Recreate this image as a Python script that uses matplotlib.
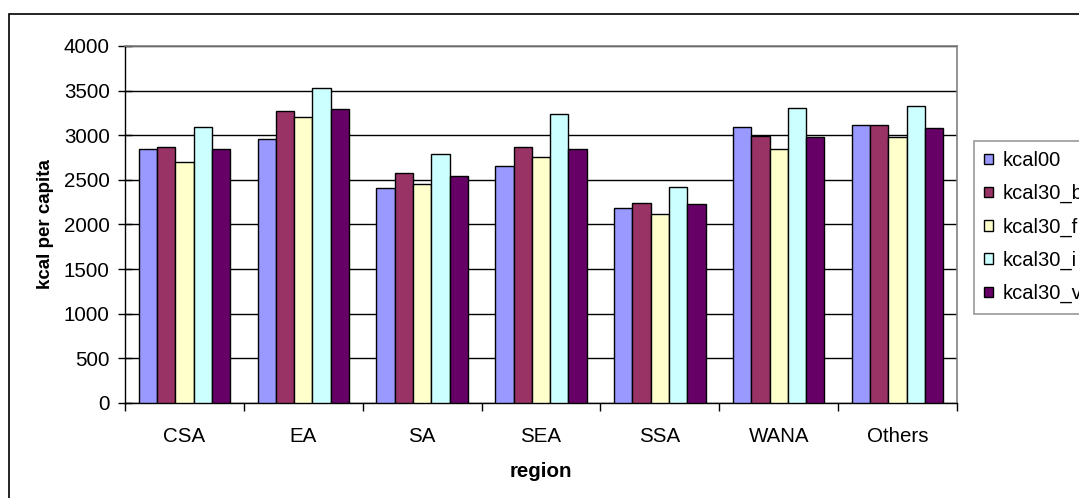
import matplotlib
matplotlib.use("Agg")
import matplotlib.pyplot as plt
from matplotlib.patches import Rectangle
import numpy as np

plt.rcParams['font.family'] = ['Liberation Sans', 'DejaVu Sans']

regions = ["CSA", "EA", "SA", "SEA", "SSA", "WANA", "Others"]
series_names = ["kcal00", "kcal30_b", "kcal30_f", "kcal30_i", "kcal30_v"]
kcal00 = [2850, 2960, 2405, 2650, 2190, 3095, 3115]
kcal30_b = [2865, 3275, 2580, 2865, 2245, 2990, 3115]
kcal30_f = [2705, 3205, 2455, 2760, 2120, 2850, 2975]
kcal30_i = [3095, 3525, 2795, 3240, 2425, 3310, 3330]
kcal30_v = [2850, 3290, 2545, 2850, 2225, 2975, 3080]
series = [kcal00, kcal30_b, kcal30_f, kcal30_i, kcal30_v]
colors = ["#9999FF", "#993366", "#FFFFCC", "#CCFFFF", "#660066"]

W, H = 1079, 498
fig = plt.figure(figsize=(W / 100, H / 100), dpi=100)

# outer chart frame (runs off the right and bottom edges)
fig.patches.append(Rectangle((9 / W, -0.2), 1.2, 1.2 - 14 / H,
                             transform=fig.transFigure, fill=False,
                             edgecolor="black", linewidth=1.2))

ax = fig.add_axes([125 / W, 1 - 403 / H, (957 - 125) / W, (403 - 46) / H])

n = len(series)
bw = 1 / 6.5
x = np.arange(len(regions))
for i, (vals, c, name) in enumerate(zip(series, colors, series_names)):
    offs = (i - (n - 1) / 2) * bw
    ax.bar(x + offs, vals, width=bw, color=c, edgecolor="black",
           linewidth=1.0, label=name, zorder=3)

ax.set_xlim(-0.5, len(regions) - 0.5)
ax.set_ylim(0, 4000)
ax.set_yticks(np.arange(0, 4001, 500))
ax.yaxis.grid(True, color="black", linewidth=1.0, zorder=0)
ax.set_axisbelow(True)

ax.set_xticks(x)
ax.set_xticklabels(regions)
ax.set_xticks(np.arange(-0.5, len(regions), 1), minor=True)
ax.tick_params(axis="x", which="major", length=0, pad=17, labelsize=14.8)
ax.tick_params(axis="x", which="minor", length=6, direction="out", width=1)
ax.tick_params(axis="y", length=10, direction="inout", width=1,
               labelsize=14.8, pad=6)

for s in ["top", "right"]:
    ax.spines[s].set_color("#808080")
    ax.spines[s].set_linewidth(1.2)
for s in ["left", "bottom"]:
    ax.spines[s].set_color("black")
    ax.spines[s].set_linewidth(1.0)

ax.set_xlabel("region", fontsize=14.8, fontweight="bold", labelpad=12)
ax.set_ylabel("kcal per capita", fontsize=13.5, fontweight="bold", labelpad=7)

handles, labels = ax.get_legend_handles_labels()
leg = fig.legend(handles, labels, loc="upper left",
                 bbox_to_anchor=(974 / W, 1 - 141 / H),
                 frameon=True, fancybox=False, fontsize=14.5,
                 handlelength=0.42, handleheight=0.42, handletextpad=0.5,
                 labelspacing=0.7, borderpad=0.5, borderaxespad=0)
leg.get_frame().set_edgecolor("#808080")
leg.get_frame().set_linewidth(1.2)

fig.savefig("out.png", dpi=100)
